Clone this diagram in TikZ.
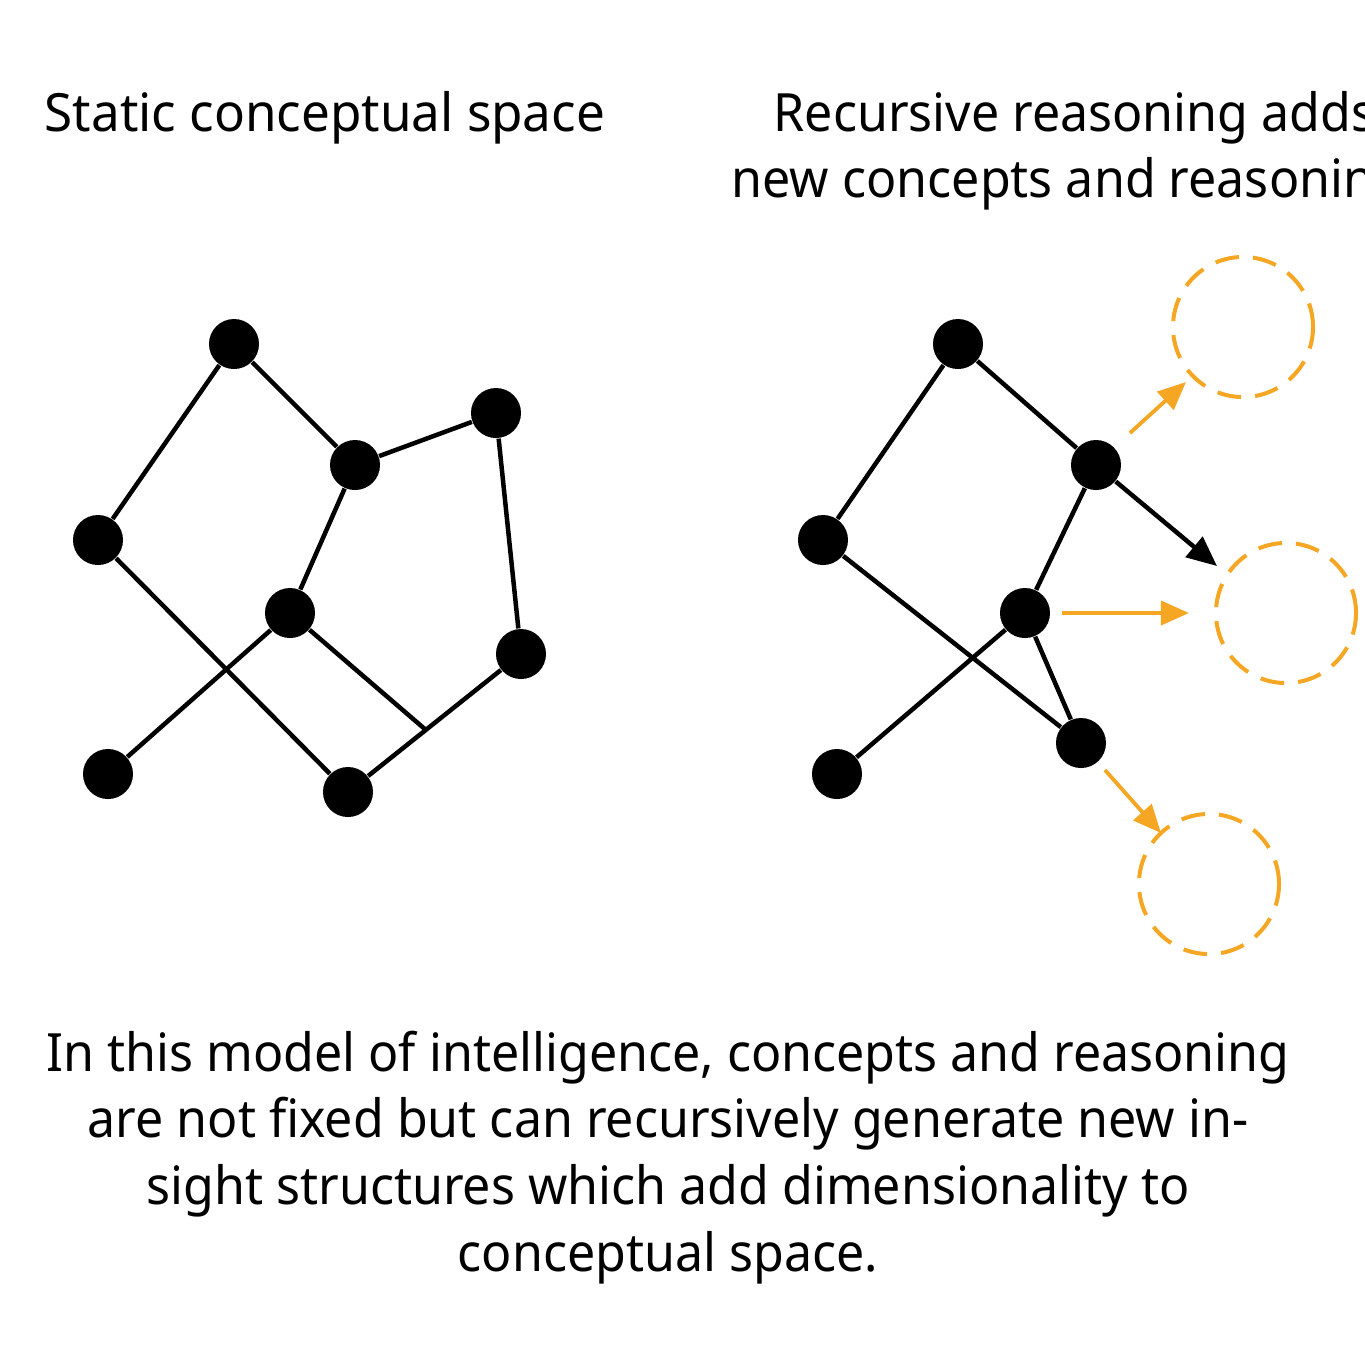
\documentclass[tikz,border=0pt]{standalone}
\usepackage{fontspec}
\setmainfont{Noto Sans}[FakeStretch=0.95]
\usetikzlibrary{arrows.meta,calc}
\definecolor{orng}{HTML}{F5A623}
\begin{document}
\begin{tikzpicture}[x=0.01cm,y=-0.01cm,
  dot/.style={circle,fill=black,inner sep=0pt,minimum size=0.5cm},
  edge/.style={line width=0.045cm,black},
  oarrow/.style={line width=0.038cm,orng,-{Triangle[length=0.28cm,width=0.24cm]}},
  barrow/.style={line width=0.045cm,black,-{Triangle[length=0.3cm,width=0.26cm]}},
  ghost/.style={circle,draw=orng,line width=0.04cm,dash pattern=on 0.24cm off 0.14cm,minimum size=1.4cm,inner sep=0pt},
  ttl/.style={font=\fontsize{15pt}{19pt}\selectfont,inner sep=0pt}]
\useasboundingbox (0,0) rectangle (1365,1365);
\clip (0,0) rectangle (1365,1365);
% titles
\node[ttl] (t1) at (325,118) {\addfontfeature{FakeStretch=0.97}Static conceptual space};
\node[ttl,anchor=west] (t2a) at (773,118) {Recursive reasoning adds};
\node[ttl,anchor=west] (t2b) at (731,184) {new concepts and reasoning};
% left graph
\node[dot] (a) at (234,344) {};
\node[dot] (b) at (98,540) {};
\node[dot] (c) at (355,465) {};
\node[dot] (d) at (496,413) {};
\node[dot] (e) at (290,613) {};
\node[dot] (f) at (521,654) {};
\node[dot] (g) at (108,774) {};
\node[dot] (h) at (348,792) {};
\coordinate (m) at ($(f)!0.55!(h)$);
\draw[edge] (a) -- (b);
\draw[edge] (a) -- (c);
\draw[edge] (c) -- (d);
\draw[edge] (d) -- (f);
\draw[edge] (c) -- (e);
\draw[edge] (b) -- (h);
\draw[edge] (e) -- (g);
\draw[edge] (f) -- (h);
\draw[edge] (e) -- (m);
% right graph
\node[dot] (ra) at (958,344) {};
\node[dot] (rb) at (823,540) {};
\node[dot] (rc) at (1096,465) {};
\node[dot] (re) at (1025,613) {};
\node[dot] (rh) at (1081,743) {};
\node[dot] (rg) at (837,774) {};
\draw[edge] (ra) -- (rb);
\draw[edge] (ra) -- (rc);
\draw[edge] (rc) -- (re);
\draw[edge] (rb) -- (rh);
\draw[edge] (re) -- (rg);
\draw[edge] (re) -- (rh);
% ghost concepts
\node[ghost] (g1) at (1243,327) {};
\node[ghost] (g2) at (1286,613) {};
\node[ghost] (g3) at (1209,884) {};
\coordinate (bk) at (1217,566);
\draw[barrow] (rc) -- (bk);
\coordinate (o1s) at (1130,433);
\coordinate (o1e) at (1186,382);
\coordinate (o2s) at (1062,613);
\coordinate (o2e) at (1189,613);
\coordinate (o3s) at (1105,770);
\coordinate (o3e) at (1161,833);
\draw[oarrow] (o1s) -- (o1e);
\draw[oarrow] (o2s) -- (o2e);
\draw[oarrow] (o3s) -- (o3e);
% caption
\node[ttl,align=center,anchor=north] (cap) at (668,1030) {In this model of intelligence, concepts and reasoning\\are not fixed but can recursively generate new in-\\sight structures which add dimensionality to\\conceptual space.};
\end{tikzpicture}
\end{document}
